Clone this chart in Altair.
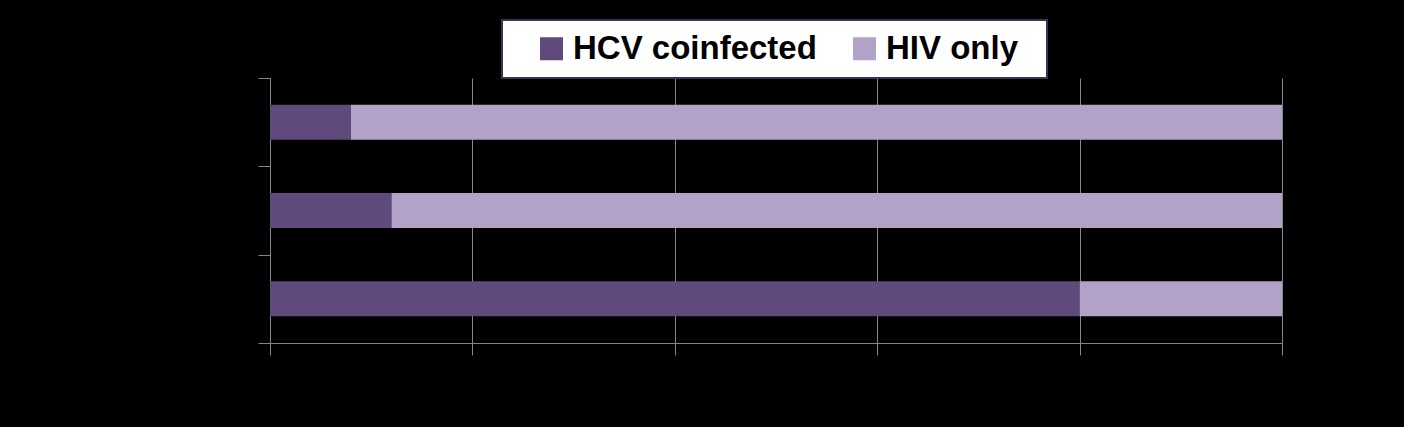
import altair as alt
import pandas as pd

categories = ["Group 1", "Group 2", "Group 3"]
series = ["HCV coinfected", "HIV only"]
hcv_values = [8, 12, 80]
hiv_values = [92, 88, 20]
x_ticks = [0, 20, 40, 60, 80, 100]
colors = ["#604a7b", "#b3a2c7"]

rows = []
for i, c in enumerate(categories):
    rows.append({"category": c, "series": series[0], "value": hcv_values[i], "ord": 0})
    rows.append({"category": c, "series": series[1], "value": hiv_values[i], "ord": 1})
df = pd.DataFrame(rows)

chart = alt.Chart(df).mark_bar(height=35).encode(
    y=alt.Y("category:N", sort=categories, title=None,
            scale=alt.Scale(paddingInner=0, paddingOuter=0),
            axis=alt.Axis(labels=False, tickBand="extent", tickSize=12,
                          domainColor="#868686", tickColor="#868686", grid=False)),
    x=alt.X("value:Q", stack="zero", title=None,
            scale=alt.Scale(domain=[0, 100], nice=False),
            axis=alt.Axis(values=x_ticks, labels=False, tickSize=12, grid=True,
                          gridColor="#868686", domainColor="#868686",
                          tickColor="#868686")),
    color=alt.Color("series:N", sort=series,
                    scale=alt.Scale(domain=series, range=colors),
                    legend=alt.Legend(orient="none", legendX=232, legendY=-58,
                                      direction="horizontal",
                                      title="\u00a0", titleOrient="right",
                                      titlePadding=17, titleFontSize=8,
                                      titleColor="white",
                                      fillColor="white", strokeColor="#3f3151",
                                      padding=12, symbolType="square",
                                      symbolSize=529, symbolStrokeWidth=0,
                                      symbolOffset=21,
                                      labelFontSize=33, labelFont="Liberation Sans",
                                      labelFontWeight="bold", labelColor="black",
                                      labelOffset=5, columnPadding=10,
                                      labelLimit=400)),
    order=alt.Order("ord:Q"),
).properties(
    width=1012, height=265,
    background="black",
    padding={"left": 270, "top": 78, "right": 122, "bottom": 84},
    autosize=alt.AutoSizeParams(type="none"),
).configure_view(stroke=None).configure_legend(strokeWidth=2)

chart.save("out.html", embed_options={"renderer": "svg", "actions": False})
